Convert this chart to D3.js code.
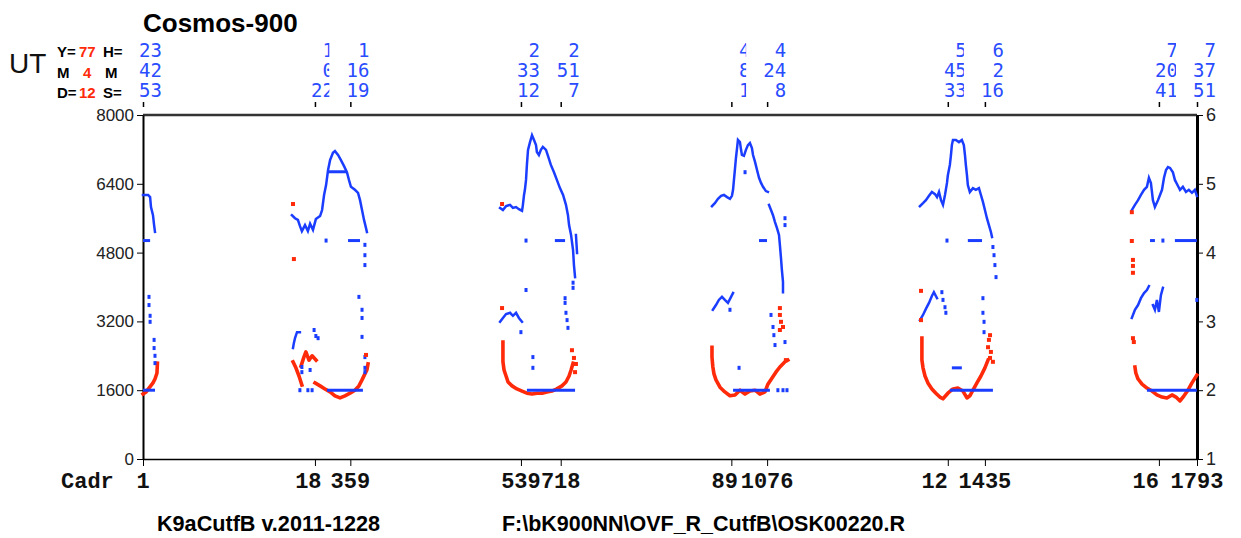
<!DOCTYPE html>
<html><head><meta charset="utf-8">
<script src="https://cdn.jsdelivr.net/npm/d3@7"></script>
<style>body{margin:0;background:#fff}</style>
</head><body><svg id="c" width="1241" height="538"></svg>
<script>
// ---------- tick data ----------
const utTicks = ["23:42:53","1:00:22","1:16:19","2:33:12","2:51:07","4:08:01","4:24:08","5:45:33","6:02:16","7:20:41","7:37:51"];
const cadrTicks = [1,180,359,539,718,897,1076,1256,1435,1614,1793];
const leftTicks = [0,1600,3200,4800,6400,8000];
const rightTicks = [1,2,3,4,5,6];
const dateInfo = {Y:"77", M:"4", D:"12"};

// ---------- series: [minutes since 23:42:53, value] ----------
const blueUp1 = [[0,6140],[2.3,6140],[3.2,6090],[3.6,5860],[4.5,5670],[5.0,5440],[5.4,5280]];
const redLow1 = [[0,1510],[1.4,1560],[2.7,1650],[4.5,1770],[5.4,1860],[6.3,2000],[6.5,2230]];

const blueUp2 = [[67.1,5670],[68.5,5600],[69.8,5560],[70.7,5420],[71.6,5300],[73.0,5440],[74.3,5300],[75.3,5470],[76.6,5330],[77.9,5580],[79.8,5650],[80.7,5790],[81.6,6140],[82.5,6370],[83.4,6720],[84.3,6950],[85.6,7120],[86.5,7160],[87.9,7070],[89.2,6950],[90.6,6810],[91.9,6670],[92.8,6490],[93.7,6330],[95.5,6260],[96.9,6190],[97.8,6020],[98.7,5790],[99.6,5560],[100.5,5370],[100.9,5280]];
const blueLow2 = [[67.6,2580],[68.0,2700],[68.5,2810],[69.4,2950],[70.7,2950]];
const redLow2a = [[67.6,2260],[68.9,2120],[70.3,1930],[71.6,1720]];
const redLow2b = [[71.2,2160],[72.5,2370],[73.4,2490],[74.8,2300],[76.2,2400],[78.0,2300]];
const redLow2c = [[77.5,1770],[79.8,1700],[82.0,1630],[84.3,1560],[86.5,1470],[88.8,1420],[91.0,1470],[93.3,1530],[95.5,1600],[97.3,1700],[98.7,1840],[100.0,1980],[100.9,2070],[101.4,2210]];

const blueUp3 = [[160.9,5840],[162.2,5790],[163.6,5880],[165.4,5910],[166.7,5840],[168.1,5860],[169.4,5810],[170.8,5770],[171.2,5910],[171.7,6140],[172.1,6260],[172.6,6490],[173.0,6840],[173.5,7190],[174.4,7370],[175.3,7530],[176.2,7420],[177.1,7300],[177.5,7140],[178.4,7070],[179.3,7190],[180.2,7260],[181.6,7190],[182.5,7050],[183.8,6840],[185.2,6670],[186.5,6490],[187.9,6300],[189.3,6140],[190.6,5910],[191.5,5670],[192.0,5440],[192.9,5210],[193.8,4860],[194.2,4510],[194.7,4230]];
const blueUp3b = [[195.1,5210],[195.6,4790]];
const blueLow3 = [[160.9,3190],[162.2,3280],[163.6,3370],[165.4,3400],[166.7,3330],[168.1,3400],[169.4,3280],[170.8,3190]];
const redLow3 = [[162.2,2720],[162.2,2490],[162.2,2260],[162.7,2070],[163.6,1930],[164.5,1790],[166.3,1700],[168.5,1630],[170.8,1580],[173.0,1530],[175.3,1510],[177.5,1530],[179.8,1530],[182.0,1560],[184.3,1580],[186.5,1630],[188.8,1700],[190.6,1790],[192.0,1930],[192.9,2070],[193.8,2230]];

const blueUp4 = [[256.4,5880],[257.7,5950],[259.1,6050],[260.5,6120],[261.8,6140],[263.2,6090],[264.5,6050],[265.4,6120],[265.9,6260],[266.3,6490],[266.8,6770],[267.2,7000],[267.7,7230],[268.1,7420],[269.0,7370],[269.5,7190],[269.9,7070],[270.8,7050],[271.7,7190],[272.6,7300],[273.5,7350],[274.4,7230],[274.9,7070],[275.8,6910],[276.7,6720],[277.6,6540],[278.5,6420],[279.4,6330],[280.7,6230],[281.6,6210]];
const blueUp4b = [[282.1,5910],[283.0,5790],[283.9,5670],[284.8,5510],[285.7,5370],[286.6,5210],[287.0,4980],[287.5,4670],[287.9,4400],[288.4,4120],[288.4,3880]];
const blueLow4 = [[256.8,3470],[258.2,3580],[259.5,3700],[260.9,3770],[262.2,3700],[263.6,3630],[265.0,3770],[265.9,3860]];
const redLow4 = [[256.4,2600],[256.4,2370],[256.8,2140],[257.3,1980],[258.2,1840],[260.0,1670],[262.2,1560],[264.5,1470],[266.8,1490],[269.0,1600],[271.3,1510],[273.5,1580],[275.8,1600],[278.0,1510],[280.3,1560],[281.6,1740],[283.4,1880],[285.2,2020],[287.0,2140],[289.3,2260],[290.6,2300]];

const blueUp5 = [[350.1,5880],[351.5,5950],[352.8,6020],[354.2,6120],[355.5,6210],[356.9,6160],[357.8,6090],[358.7,6210],[359.6,6020],[360.5,5910],[361.4,6140],[362.3,6420],[362.7,6600],[363.6,6840],[364.1,7070],[364.5,7300],[365.0,7420],[366.3,7420],[367.7,7370],[369.0,7420],[369.9,7300],[370.4,7070],[370.8,6840],[371.3,6600],[371.7,6370],[372.6,6210],[374.0,6300],[375.3,6260],[376.7,6300],[377.6,6140],[378.5,5980],[379.4,5790],[380.3,5600],[381.2,5440],[382.1,5280],[382.6,5160]];
const blueLow5 = [[350.1,3230],[351.5,3350],[352.8,3490],[354.2,3630],[355.5,3790],[356.4,3880],[357.8,3740]];
const redLow5 = [[351.0,2810],[351.0,2530],[351.0,2300],[351.5,2120],[352.4,1930],[353.7,1770],[355.5,1630],[357.3,1530],[359.1,1440],[360.5,1400],[362.7,1530],[365.0,1630],[367.2,1650],[369.5,1580],[371.3,1420],[372.6,1470],[374.0,1600],[375.8,1770],[377.6,1930],[379.4,2120],[380.8,2300]];

const blueUp6 = [[445.6,5790],[447.0,5910],[448.4,6020],[449.7,6140],[451.1,6260],[452.4,6330],[453.3,6540],[454.2,6420],[455.1,6020],[456.0,5860],[457.4,6020],[458.3,6140],[459.2,6260],[460.1,6540],[461.0,6720],[461.9,6790],[462.8,6770],[464.1,6670],[465.0,6490],[466.4,6350],[467.3,6260],[468.6,6330],[470.0,6210],[471.3,6260],[472.7,6190],[474.0,6260],[474.9,6120]];
const blueLow6a = [[445.6,3280],[447.0,3470],[448.4,3580],[449.7,3740],[451.1,3860],[452.4,3930],[453.3,4020]];
const blueLow6b = [[455.1,3580],[456.0,3470],[456.9,3700],[457.8,3420],[458.7,3810],[459.6,3980]];
const redLow6 = [[447.0,2140],[447.4,2000],[448.4,1860],[450.2,1740],[452.4,1650],[454.7,1580],[456.9,1490],[459.2,1440],[461.4,1420],[463.7,1490],[465.5,1440],[467.3,1350],[469.1,1470],[470.9,1600],[472.7,1770],[474.9,1950]];

// horizontal blue levels: [tStart, tEnd, value]
const blueLevels = [[0,3.2,5080],[82.9,91.9,6680],[92.4,97.8,5080],[185.6,190.2,5080],[277.6,281.2,5080],[364.5,369.0,2120],[371.7,378.1,5080],[453.8,456.0,5080],[465.0,474.9,5080],
  [0,5.4,1600],[82.9,99.1,1600],[173.0,194.7,1600],[265.9,282.5,1600],[363.6,383.0,1600],[452.4,474.9,1600]];

const blueDots = [[2.7,3770],[2.7,3580],[3.2,3330],[3.2,3190],[5.0,2770],[5.0,2580],[5.4,2400],[5.4,2230],
  [82.5,5080],[100.0,4980],[100.0,4740],[100.0,4510],[97.3,3770],[98.7,3470],[98.7,3280],[98.7,2840],[100.0,2370],[100.0,2120],[100.0,2020],
  [77.1,3000],[77.9,2860],[78.9,2810],[71.6,2140],[71.6,2020],[75.3,2070],[70.7,1600],[74.3,1600],[76.2,1600],
  [172.6,5080],[172.6,3930],[193.8,4100],[193.8,3980],[170.3,2950],[190.2,3740],[190.2,3630],[190.6,3400],[191.1,3230],[191.5,3050],[175.7,2370],[175.7,2120],
  [271.3,6670],[289.3,5600],[289.3,5440],[264.5,3470],[283.0,3350],[283.9,3070],[284.3,2880],[284.8,2650],[289.3,2720],[268.6,2120],[286.1,1600],[288.4,1600],[290.2,1600],
  [362.3,5080],[383.0,4930],[383.5,4740],[383.9,4510],[384.4,4230],[360.0,3880],[360.5,3700],[361.4,3530],[361.8,3400],[378.5,3740],[378.5,3400],[379.0,3190],[379.0,2950],
  [459.6,5080],[474.9,3700]];

const redDots = [[67.6,5930],[68.0,4650],[100.5,2420],[161.8,5930],[161.8,3510],[193.3,2530],[194.2,2350],[195.1,2210],[194.7,2020],
  [287.0,3510],[287.0,3350],[287.5,3190],[287.0,3000],[288.4,3070],[289.7,2300],[350.6,3910],[350.6,3230],
  [380.8,2600],[382.1,2490],[381.7,2350],[383.0,2260],[381.2,2770],[381.7,2880],
  [445.6,5740],[445.6,5070],[446.1,4630],[446.1,4490],[446.1,4330],[446.1,2810],[446.5,2720]];

const blueLines = [blueUp1,blueUp2,blueLow2,blueUp3,blueUp3b,blueLow3,blueUp4,blueUp4b,blueLow4,blueUp5,blueLow5,blueUp6,blueLow6a,blueLow6b];
const redLines = [redLow1,redLow2a,redLow2b,redLow2c,redLow3,redLow4,redLow5,redLow6];

// ---------- drawing ----------
const BLUE = "#1a3dff", RED = "#ff2a0a", LBLUE = "#2a4cff";
const svg = d3.select("#c");
svg.append("rect").attr("width",1241).attr("height",538).attr("fill","#fff");

function toMin(s){ const p=s.split(":").map(Number); let v=p[0]*60+p[1]+p[2]/60; if(p[0]<12) v+=1440; return v-(23*60+42+53/60); }
const tTicks = utTicks.map(toMin);
const x = d3.scaleLinear().domain([0, tTicks[tTicks.length-1]]).range([143,1197]);
const y = d3.scaleLinear().domain([0,8000]).range([459,115]);
const yR = d3.scaleLinear().domain([1,6]).range([459,115]);

// top border
svg.append("line").attr("x1",143).attr("x2",1197).attr("y1",115).attr("y2",115).attr("stroke","#333").attr("stroke-width",2.5);

// left axis
const gl = svg.append("g").attr("transform","translate(143,0)")
  .call(d3.axisLeft(y).tickValues(leftTicks).tickSize(6).tickSizeOuter(0).tickPadding(3).tickFormat(d3.format("d")));
gl.select(".domain").attr("stroke","#000").attr("stroke-width",2);
gl.selectAll("text").attr("font-family","Liberation Sans, Arial, sans-serif").attr("font-size",17).attr("fill","#222");

// right axis
const gr = svg.append("g").attr("transform","translate(1197,0)")
  .call(d3.axisRight(yR).tickValues(rightTicks).tickSize(6).tickSizeOuter(0).tickPadding(3).tickFormat(d3.format("d")));
gr.select(".domain").attr("stroke","#000").attr("stroke-width",3);
gr.selectAll("text").attr("font-family","Liberation Sans, Arial, sans-serif").attr("font-size",18).attr("fill","#222");

// bottom axis
const gb = svg.append("g").attr("transform","translate(0,459)")
  .call(d3.axisBottom(x).tickValues(tTicks).tickSize(7).tickSizeOuter(0).tickFormat(""));
gb.select(".domain").attr("stroke","#000").attr("stroke-width",1.5);

// top small ticks
const gt = svg.append("g").attr("transform","translate(0,107)")
  .call(d3.axisTop(x).tickValues(tTicks).tickSize(5).tickFormat(""));
gt.select(".domain").remove();
gt.selectAll("line").attr("stroke","#000").attr("stroke-width",1.5);

// data
const line = d3.line().x(d=>x(d[0])).y(d=>y(d[1]));
const plot = svg.append("g");
plot.selectAll(".rl").data(redLines).join("path").attr("class","rl").attr("d",line)
  .attr("fill","none").attr("stroke",RED).attr("stroke-width",3.6).attr("stroke-linejoin","round").attr("stroke-linecap","square");
plot.selectAll(".bl").data(blueLines).join("path").attr("class","bl").attr("d",line)
  .attr("fill","none").attr("stroke",BLUE).attr("stroke-width",2.5).attr("stroke-linejoin","miter").attr("stroke-linecap","square");
plot.selectAll(".lv").data(blueLevels).join("line").attr("class","lv")
  .attr("x1",d=>x(d[0])).attr("x2",d=>x(d[1])).attr("y1",d=>y(d[2])).attr("y2",d=>y(d[2]))
  .attr("stroke",BLUE).attr("stroke-width",3);
plot.selectAll(".bd").data(blueDots).join("rect").attr("class","bd")
  .attr("x",d=>x(d[0])-1.5).attr("y",d=>y(d[1])-2).attr("width",3).attr("height",4).attr("fill",BLUE);
plot.selectAll(".rd").data(redDots).join("rect").attr("class","rd")
  .attr("x",d=>x(d[0])-2).attr("y",d=>y(d[1])-2).attr("width",4).attr("height",4).attr("fill",RED);

// top UT labels (H, M, S rows) with white boxes, later ones covering earlier
const utG = svg.append("g");
utTicks.forEach((s,i)=>{
  const p = s.split(":").map(Number);
  const tx = x(tTicks[i]);
  const g = utG.append("g");
  g.append("rect").attr("x",tx-21).attr("y",40).attr("width",42).attr("height",60).attr("fill","#fff");
  p.forEach((v,j)=>{
    g.append("text").attr("x",tx+19).attr("y",57+j*20).attr("text-anchor","end")
      .attr("font-family","DejaVu Sans Mono, monospace").attr("font-size",19).attr("fill",LBLUE).text(String(v));
  });
});

// bottom cadr labels: a label hidden by the next one keeps only its visible digits
const CW = 13.2;
const cG = svg.append("g");
cadrTicks.forEach((c,i)=>{
  const tx = x(tTicks[i]);
  const s = String(c);
  const left = tx - s.length*CW/2;
  let shown = s;
  if(i < cadrTicks.length-1){
    const nx = x(tTicks[i+1]) - String(cadrTicks[i+1]).length*CW/2;
    const fit = Math.floor((nx - left + 1)/CW);
    if(fit < s.length) shown = s.slice(0, Math.max(fit,1));
  }
  cG.append("text").attr("x",left).attr("y",488)
    .attr("font-family","Liberation Mono, Courier New, monospace").attr("font-weight","bold").attr("font-size",22).attr("fill","#111").text(shown);
});
svg.append("text").attr("x",61).attr("y",488)
  .attr("font-family","Liberation Mono, Courier New, monospace").attr("font-weight","bold").attr("font-size",22).attr("fill","#111").text("Cadr");

// title and header
svg.append("text").attr("x",143).attr("y",32).attr("font-family","Liberation Sans, Arial, sans-serif")
  .attr("font-weight","bold").attr("font-size",26).attr("fill","#000").text("Cosmos-900");
svg.append("text").attr("x",9).attr("y",73).attr("font-family","Liberation Sans, Arial, sans-serif")
  .attr("font-size",28).attr("fill","#111").text("UT");
const hdr = [["Y=",dateInfo.Y,"H="],["M",dateInfo.M,"M"],["D=",dateInfo.D,"S="]];
const hx = [[57,79,103],[57,83,105],[57,79,103]];
hdr.forEach((row,j)=>{
  row.forEach((t,k)=>{
    svg.append("text").attr("x",hx[j][k]).attr("y",57+j*20.5)
      .attr("font-family","Liberation Sans, Arial, sans-serif").attr("font-weight","bold").attr("font-size",15)
      .attr("fill",k===1?"#ff2a0a":"#000").text(t);
  });
});

// footer
svg.append("text").attr("x",157).attr("y",531).attr("font-family","Liberation Sans Narrow, Arial Narrow, Liberation Sans, sans-serif")
  .attr("font-weight","bold").attr("font-size",22).attr("textLength",223).attr("lengthAdjust","spacingAndGlyphs").attr("fill","#000")
  .text("K9aCutfB v.2011-1228");
svg.append("text").attr("x",502).attr("y",531).attr("font-family","Liberation Sans Narrow, Arial Narrow, Liberation Sans, sans-serif")
  .attr("font-weight","bold").attr("font-size",22).attr("textLength",403).attr("lengthAdjust","spacingAndGlyphs").attr("fill","#000")
  .text("F:\\bK900NN\\OVF_R_CutfB\\OSK00220.R");
</script></body></html>
